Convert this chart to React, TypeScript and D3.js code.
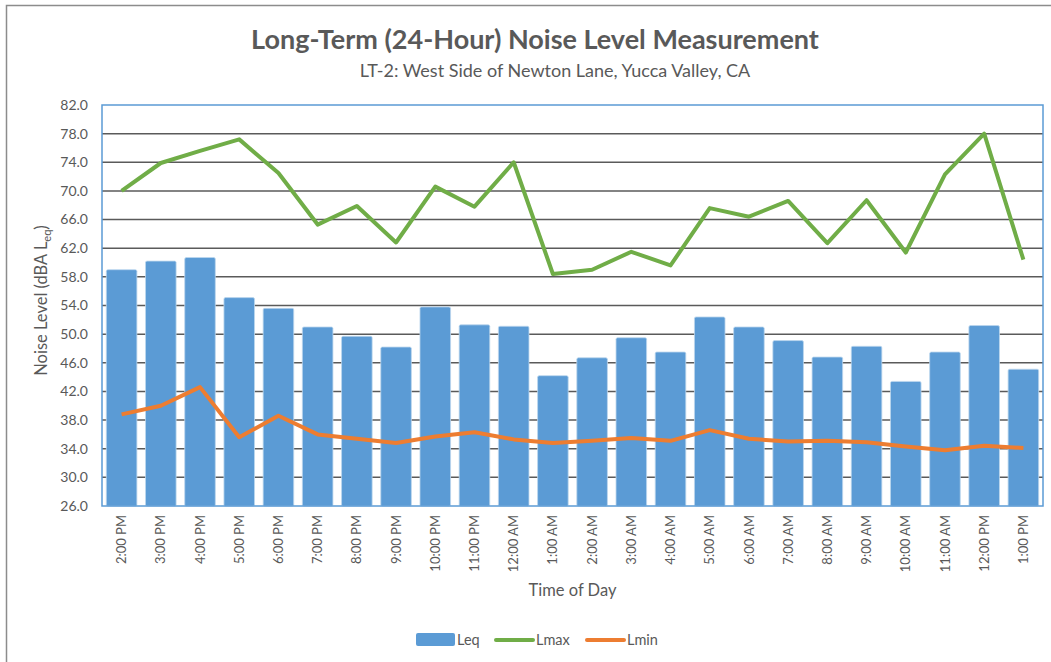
import React, { useEffect, useRef } from 'react';
import * as d3 from 'd3';

const hours = [
  '2:00 PM', '3:00 PM', '4:00 PM', '5:00 PM', '6:00 PM', '7:00 PM', '8:00 PM', '9:00 PM',
  '10:00 PM', '11:00 PM', '12:00 AM', '1:00 AM', '2:00 AM', '3:00 AM', '4:00 AM', '5:00 AM',
  '6:00 AM', '7:00 AM', '8:00 AM', '9:00 AM', '10:00 AM', '11:00 AM', '12:00 PM', '1:00 PM',
];
const leq = [59.0, 60.2, 60.7, 55.1, 53.6, 51.0, 49.7, 48.2, 53.8, 51.3, 51.1, 44.2,
  46.7, 49.5, 47.5, 52.4, 51.0, 49.1, 46.8, 48.3, 43.4, 47.5, 51.2, 45.1];
const lmax = [70.0, 73.9, 75.6, 77.2, 72.5, 65.3, 67.9, 62.8, 70.6, 67.8, 74.0, 58.4,
  59.0, 61.5, 59.6, 67.6, 66.4, 68.6, 62.7, 68.7, 61.4, 72.3, 78.0, 60.4];
const lmin = [38.8, 40.0, 42.6, 35.6, 38.6, 36.0, 35.4, 34.8, 35.7, 36.3, 35.3, 34.8,
  35.1, 35.5, 35.1, 36.6, 35.4, 35.0, 35.1, 34.9, 34.3, 33.8, 34.4, 34.1];
const yTicks = [26, 30, 34, 38, 42, 46, 50, 54, 58, 62, 66, 70, 74, 78, 82];

const W = 1051;
const H = 662;
const FONT = 'Lato, "Open Sans", sans-serif';
const TXT = '#595959';

const App = () => {
  const ref = useRef<SVGSVGElement>(null);

  useEffect(() => {
    const svg = d3.select(ref.current);
    svg.selectAll('*').remove();

    const m = { top: 105, right: 8, bottom: 156, left: 102 };
    const iw = W - m.left - m.right;
    const ih = H - m.top - m.bottom;

    // outer frame
    svg.append('rect')
      .attr('x', 6.5).attr('y', 5.5).attr('width', 1100).attr('height', 700)
      .attr('fill', '#fff').attr('stroke', '#8c8c8c').attr('stroke-width', 1.5);

    // titles
    svg.append('text')
      .attr('x', 535).attr('y', 49).attr('text-anchor', 'middle')
      .attr('font-family', FONT).attr('font-weight', 'bold').attr('font-size', 27)
      .attr('fill', TXT).text('Long-Term (24-Hour) Noise Level Measurement');
    svg.append('text')
      .attr('x', 555).attr('y', 77).attr('text-anchor', 'middle')
      .attr('font-family', FONT).attr('font-size', 18)
      .attr('fill', TXT).text('LT-2: West Side of Newton Lane, Yucca Valley, CA');

    const g = svg.append('g').attr('transform', `translate(${m.left},${m.top})`);

    const x = d3.scaleBand().domain(hours).range([0, iw]).paddingInner(0.22).paddingOuter(0.11);
    const y = d3.scaleLinear().domain([26, 82]).range([ih, 0]);

    // gridlines
    g.append('g')
      .selectAll('line')
      .data(yTicks.slice(1, -1))
      .enter()
      .append('line')
      .attr('x1', 0).attr('x2', iw)
      .attr('y1', d => y(d)).attr('y2', d => y(d))
      .attr('stroke', '#5a5a5a').attr('stroke-width', 1.5);

    // y tick labels
    g.append('g')
      .selectAll('text')
      .data(yTicks)
      .enter()
      .append('text')
      .attr('x', -14).attr('y', d => y(d)).attr('dy', '0.35em')
      .attr('text-anchor', 'end')
      .attr('font-family', FONT).attr('font-size', 14).attr('fill', TXT)
      .text(d => d3.format('.1f')(d));

    // bars
    g.append('g')
      .selectAll('rect')
      .data(leq)
      .enter()
      .append('rect')
      .attr('x', (d, i) => x(hours[i]) as number)
      .attr('y', d => y(d))
      .attr('width', x.bandwidth())
      .attr('height', d => ih - y(d))
      .attr('rx', 1.5)
      .attr('fill', '#5b9bd5')
      .attr('stroke', '#bdd7ee').attr('stroke-width', 0.8);

    const line = d3.line<number>()
      .x((d, i) => (x(hours[i]) as number) + x.bandwidth() / 2)
      .y(d => y(d));

    g.append('path').datum(lmax).attr('d', line)
      .attr('fill', 'none').attr('stroke', '#70ad47').attr('stroke-width', 4)
      .attr('stroke-linejoin', 'round');
    g.append('path').datum(lmin).attr('d', line)
      .attr('fill', 'none').attr('stroke', '#ed7d31').attr('stroke-width', 4)
      .attr('stroke-linejoin', 'round');

    // plot border
    g.append('rect')
      .attr('x', 0).attr('y', 0).attr('width', iw).attr('height', ih)
      .attr('fill', 'none').attr('stroke', '#5b9bd5').attr('stroke-width', 1.5);

    // x labels
    g.append('g')
      .selectAll('text')
      .data(hours)
      .enter()
      .append('text')
      .attr('transform', d => `translate(${(x(d) as number) + x.bandwidth() / 2},${ih + 9}) rotate(-90)`)
      .attr('dy', '0.35em')
      .attr('text-anchor', 'end')
      .attr('font-family', FONT).attr('font-size', 13).attr('fill', TXT)
      .text(d => d);

    // axis titles
    g.append('text')
      .attr('x', iw / 2).attr('y', ih + 90).attr('text-anchor', 'middle')
      .attr('font-family', FONT).attr('font-size', 16.5).attr('fill', TXT)
      .text('Time of Day');

    const yt = g.append('text')
      .attr('transform', `translate(-55,${ih / 2 - 5}) rotate(-90)`)
      .attr('text-anchor', 'middle')
      .attr('font-family', FONT).attr('font-size', 16.5).attr('fill', TXT);
    yt.append('tspan').text('Noise Level (dBA L');
    yt.append('tspan').attr('font-size', 11).attr('dy', 4).text('eq');
    yt.append('tspan').attr('dy', -4).text(')');

    // legend
    const lg = svg.append('g').attr('font-family', FONT).attr('font-size', 14.5).attr('fill', TXT);
    lg.append('rect').attr('x', 416).attr('y', 633).attr('width', 39).attr('height', 13)
      .attr('rx', 2).attr('fill', '#5b9bd5');
    lg.append('text').attr('x', 457).attr('y', 640).attr('dy', '0.35em').text('Leq');
    lg.append('line').attr('x1', 496).attr('x2', 533).attr('y1', 640).attr('y2', 640)
      .attr('stroke', '#70ad47').attr('stroke-width', 4).attr('stroke-linecap', 'round');
    lg.append('text').attr('x', 536).attr('y', 640).attr('dy', '0.35em').text('Lmax');
    lg.append('line').attr('x1', 587).attr('x2', 624).attr('y1', 640).attr('y2', 640)
      .attr('stroke', '#ed7d31').attr('stroke-width', 4).attr('stroke-linecap', 'round');
    lg.append('text').attr('x', 627).attr('y', 640).attr('dy', '0.35em').text('Lmin');
  }, []);

  return (
    <svg ref={ref} width={W} height={H}
      style={{ position: 'absolute', left: 0, top: 0, background: '#fff' }} />
  );
};

export default App;
